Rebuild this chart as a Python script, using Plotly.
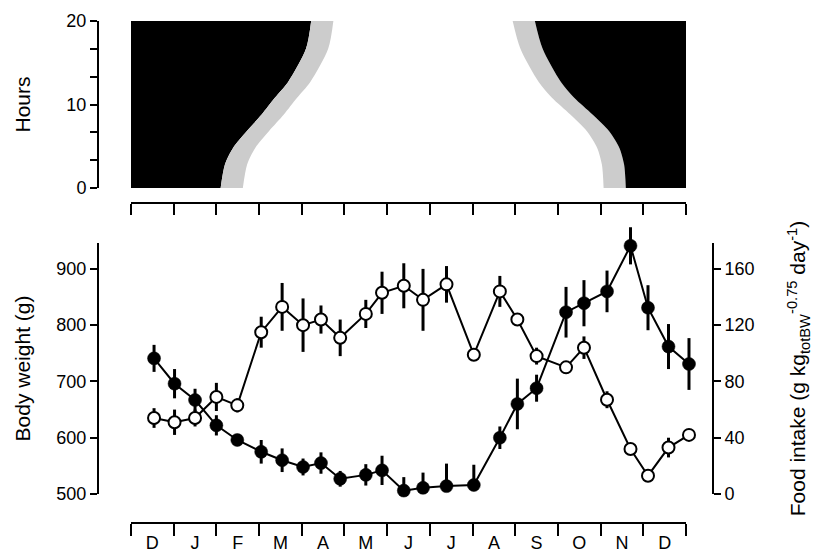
import plotly.graph_objects as go

# The page body adds an 8 px margin, so the figure is made 8 px smaller
# and every reference position is shifted by that offset.
OFF = 8
W, H = 822 - OFF, 551 - OFF

# ---------------- data ----------------
month_labels = ["D", "J", "F", "M", "A", "M", "J", "J", "A", "S", "O", "N", "D"]

# sampling dates, in months since 1 December
sample_month = [0.54, 1.02, 1.50, 2.00, 2.49, 3.05, 3.54, 4.03, 4.45, 4.90,
                5.50, 5.88, 6.39, 6.84, 7.39, 8.03, 8.64, 9.05, 9.50, 10.19,
                10.61, 11.15, 11.70, 12.11, 12.59, 13.07]

body_weight = [741, 696, 667, 622, 596, 575, 560, 548, 555, 527,
               534, 542, 506, 511, 514, 516, 600, 660, 688, 823,
               839, 860, 941, 831, 762, 731]
bw_err_up = [24, 26, 20, 18, 6, 21, 21, 15, 19, 14,
             19, 26, 24, 27, 40, 36, 20, 45, 24, 45,
             41, 37, 33, 40, 40, 46]
bw_err_down = [24, 26, 20, 18, 6, 21, 21, 15, 19, 14,
               19, 26, 0, 0, 0, 0, 20, 45, 24, 45,
               41, 37, 33, 40, 40, 46]

food_intake = [54, 51, 54, 69, 63, 115, 133, 120, 124, 111,
               128, 143, 148, 138, 149, 99, 144, 124, 98, 90,
               104, 67, 32, 13, 33, 42]
fi_err = [7, 9, 6, 10, 5, 11, 17, 19, 10, 13,
          10, 15, 16, 22, 13, 4, 11, 3, 6, 4,
          8, 6, 2, 2, 7, 4]

# light regime (top panel)
hours = [0, 2.8, 4.8, 6.8, 8.8, 10.8, 12.7, 16.7, 20]
spring_dark_end = [2.10, 2.20, 2.39, 2.71, 3.06, 3.37, 3.68, 4.10, 4.22]
autumn_dark_start = [11.59, 11.55, 11.44, 11.20, 10.81, 10.38, 10.07, 9.64, 9.46]
twilight = 0.52
n_months = len(month_labels)

# ---------------- geometry helpers ----------------
def fx(px):
    return (px - OFF) / W

def fy(py):
    return 1 - (py - OFF) / H

X0, X1 = 131, 686                 # month axis span (px)
k = (X1 - X0) / n_months           # px per month
BW_LO, BW_HI = 500, 946            # displayed body weight range
LO_TOP, LO_BOT = 243, 494          # lower panel axis span (px)
s = (LO_BOT - LO_TOP) / (BW_HI - BW_LO)
FI_FACTOR = 0.4                    # food-intake units per gram above 500
D_TOP, D_BOT = 220, 510            # data area (px), larger than the axes
DX0, DX1 = 110, 760
bw_data_range = [BW_LO - (D_BOT - LO_BOT) / s, BW_HI + (LO_TOP - D_TOP) / s]
fi_data_range = [(v - BW_LO) * FI_FACTOR for v in bw_data_range]
x_data_range = [(DX0 - X0) / k, n_months + (DX1 - X1) / k]

FONT = "Liberation Sans, Arial, Helvetica, sans-serif"
TICKF = dict(family=FONT, size=18, color="black")
TITLEF = dict(family=FONT, size=21, color="black")

fig = go.Figure()

# ---- top panel: darkness / twilight ----
line0 = dict(width=0, shape="spline", smoothing=0.8)
fig.add_trace(go.Scatter(x=[0] * len(hours), y=hours, mode="lines",
                         line=dict(width=0), xaxis="x", yaxis="y",
                         showlegend=False, hoverinfo="skip"))
fig.add_trace(go.Scatter(x=spring_dark_end, y=hours, mode="lines", line=line0,
                         fill="tonextx", fillcolor="black", xaxis="x", yaxis="y",
                         showlegend=False, hoverinfo="skip"))
fig.add_trace(go.Scatter(x=[v + twilight for v in spring_dark_end], y=hours,
                         mode="lines", line=line0, fill="tonextx",
                         fillcolor="#cccccc", xaxis="x", yaxis="y",
                         showlegend=False, hoverinfo="skip"))
fig.add_trace(go.Scatter(x=[v - twilight for v in autumn_dark_start], y=hours,
                         mode="lines", line=line0, xaxis="x", yaxis="y",
                         showlegend=False, hoverinfo="skip"))
fig.add_trace(go.Scatter(x=autumn_dark_start, y=hours, mode="lines", line=line0,
                         fill="tonextx", fillcolor="#cccccc", xaxis="x", yaxis="y",
                         showlegend=False, hoverinfo="skip"))
fig.add_trace(go.Scatter(x=[n_months] * len(hours), y=hours, mode="lines",
                         line=dict(width=0), fill="tonextx", fillcolor="black",
                         xaxis="x", yaxis="y", showlegend=False, hoverinfo="skip"))

# ---- lower panel: body weight (filled) and food intake (open) ----
fig.add_trace(go.Scatter(
    x=sample_month, y=body_weight, mode="lines+markers", name="Body weight",
    line=dict(color="black", width=2),
    marker=dict(symbol="circle", size=13, color="black",
                line=dict(color="black", width=0.5)),
    error_y=dict(type="data", symmetric=False, array=bw_err_up,
                 arrayminus=bw_err_down, thickness=3, width=0, color="black"),
    xaxis="x2", yaxis="y2", showlegend=False, cliponaxis=False))
fig.add_trace(go.Scatter(
    x=sample_month, y=food_intake, mode="lines+markers", name="Food intake",
    line=dict(color="black", width=2),
    marker=dict(symbol="circle", size=12, color="white",
                line=dict(color="black", width=2)),
    error_y=dict(type="data", array=fi_err, thickness=3, width=0, color="black"),
    xaxis="x2", yaxis="y3", showlegend=False, cliponaxis=False))

# ---- dummy traces that carry the displayed axes ----
fig.add_trace(go.Scatter(x=[0], y=[BW_LO], mode="markers", marker=dict(opacity=0),
                         xaxis="x3", yaxis="y4", showlegend=False, hoverinfo="skip"))
fig.add_trace(go.Scatter(x=[0], y=[0], mode="markers", marker=dict(opacity=0),
                         xaxis="x3", yaxis="y5", showlegend=False, hoverinfo="skip"))

axis_common = dict(showgrid=False, zeroline=False, showline=True, linecolor="black",
                   linewidth=2, ticks="outside", tickcolor="black", tickwidth=2,
                   tickfont=TICKF, automargin=False, fixedrange=True)

fig.update_layout(
    width=W, height=H,
    margin=dict(l=0, r=0, t=0, b=0),
    paper_bgcolor="white", plot_bgcolor="rgba(0,0,0,0)",
    showlegend=False,
    font=dict(family=FONT, color="black"),
    # top panel
    xaxis=dict(axis_common, domain=[fx(X0), fx(X1)], range=[0, n_months],
               anchor="free", position=fy(203), tickmode="array",
               tickvals=list(range(n_months + 1)), showticklabels=False, ticklen=11),
    yaxis=dict(axis_common, domain=[fy(188), fy(21)], range=[0, 20],
               anchor="free", position=fx(98), tickmode="array",
               tickvals=[0, 10, 20], ticklen=7,
               minor=dict(tickmode="array", tickvals=[20 / 6, 40 / 6, 80 / 6, 100 / 6],
                          ticks="outside", ticklen=7, tickwidth=2,
                          tickcolor="black", showgrid=False),
               title=dict(text="Hours", font=TITLEF, standoff=29)),
    # lower panel data axes (hidden)
    xaxis2=dict(domain=[fx(DX0), fx(DX1)], range=x_data_range, visible=False,
                anchor="y2", fixedrange=True),
    yaxis2=dict(domain=[fy(D_BOT), fy(D_TOP)], range=bw_data_range, visible=False,
                anchor="x2", fixedrange=True),
    yaxis3=dict(range=fi_data_range, visible=False, overlaying="y2",
                anchor="x2", fixedrange=True),
    # displayed axes of the lower panel
    xaxis3=dict(axis_common, domain=[fx(X0), fx(X1)], range=[0, n_months],
                anchor="free", position=fy(523), tickmode="array",
                tickvals=[i + 0.5 for i in range(n_months)], ticktext=month_labels,
                ticklen=3, tickcolor="rgba(0,0,0,0)",
                minor=dict(tickmode="array", tickvals=list(range(n_months + 1)),
                           ticks="outside", ticklen=12, tickwidth=2,
                           tickcolor="black", showgrid=False)),
    yaxis4=dict(axis_common, domain=[fy(LO_BOT), fy(LO_TOP)], range=[BW_LO, BW_HI],
                anchor="free", position=fx(98), tickmode="array",
                tickvals=[500, 600, 700, 800, 900], ticklen=7,
                title=dict(text="Body weight (g)", font=TITLEF, standoff=19)),
    yaxis5=dict(axis_common, range=[0, (BW_HI - BW_LO) * FI_FACTOR],
                overlaying="y4", side="right", anchor="free", position=fx(713),
                tickmode="array", tickvals=[0, 40, 80, 120, 160], ticklen=7,
                title=dict(text="Food intake (g kg<sub>totBW</sub><sup>-0.75</sup> day<sup>-1</sup>)",
                           font=TITLEF, standoff=36)),
)

fig.write_html("out.html")
